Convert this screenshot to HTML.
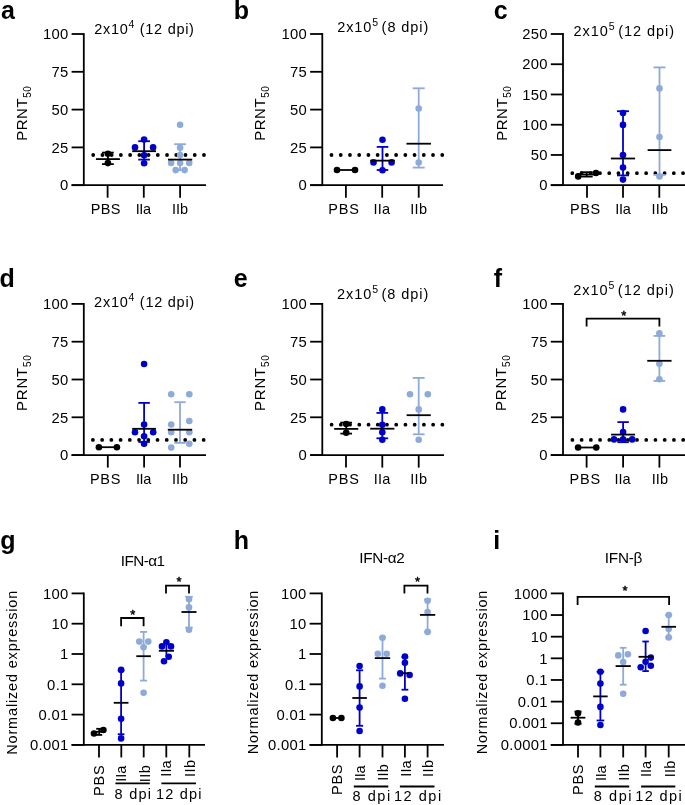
<!DOCTYPE html>
<html><head><meta charset="utf-8"><style>
html,body{margin:0;padding:0;background:#fff;}
svg{display:block;will-change:transform;}
text{font-family:"Liberation Sans", sans-serif;fill:#000;}
</style></head><body>
<svg width="685" height="805" viewBox="0 0 685 805">
<line x1="83.8" y1="33.1" x2="83.8" y2="186.1" stroke="#000000" stroke-width="1.8" />
<line x1="71.6" y1="34.0" x2="83.8" y2="34.0" stroke="#000000" stroke-width="1.8" />
<line x1="71.6" y1="71.8" x2="83.8" y2="71.8" stroke="#000000" stroke-width="1.8" />
<line x1="71.6" y1="109.6" x2="83.8" y2="109.6" stroke="#000000" stroke-width="1.8" />
<line x1="71.6" y1="147.39999999999998" x2="83.8" y2="147.39999999999998" stroke="#000000" stroke-width="1.8" />
<line x1="71.6" y1="185.2" x2="83.8" y2="185.2" stroke="#000000" stroke-width="1.8" />
<line x1="71.6" y1="185.2" x2="206" y2="185.2" stroke="#000000" stroke-width="1.8" />
<line x1="107.6" y1="185.2" x2="107.6" y2="197.7" stroke="#000000" stroke-width="1.8" />
<line x1="143.8" y1="185.2" x2="143.8" y2="197.7" stroke="#000000" stroke-width="1.8" />
<line x1="180.1" y1="185.2" x2="180.1" y2="197.7" stroke="#000000" stroke-width="1.8" />
<line x1="93.2" y1="155" x2="204" y2="155" stroke="#000000" stroke-width="3.8" stroke-linecap="round" stroke-dasharray="0 9.23"/>
<line x1="107.9" y1="152.6" x2="107.9" y2="164.1" stroke="#000000" stroke-width="1.8" />
<line x1="102.05000000000001" y1="152.6" x2="113.75" y2="152.6" stroke="#000000" stroke-width="1.8" />
<line x1="102.05000000000001" y1="164.1" x2="113.75" y2="164.1" stroke="#000000" stroke-width="1.8" />
<circle cx="107.9" cy="153.8" r="3.3" fill="#000000"/>
<circle cx="107.9" cy="163.1" r="3.3" fill="#000000"/>
<line x1="95.9" y1="159.1" x2="119.9" y2="159.1" stroke="#000000" stroke-width="1.8" />
<line x1="144.1" y1="141.2" x2="144.1" y2="159.6" stroke="#0000C8" stroke-width="1.8" />
<line x1="138.25" y1="141.2" x2="149.95" y2="141.2" stroke="#0000C8" stroke-width="1.8" />
<line x1="138.25" y1="159.6" x2="149.95" y2="159.6" stroke="#0000C8" stroke-width="1.8" />
<circle cx="144.1" cy="139.5" r="3.3" fill="#0000C8"/>
<circle cx="135" cy="147.4" r="3.3" fill="#0000C8"/>
<circle cx="153.1" cy="147.4" r="3.3" fill="#0000C8"/>
<circle cx="144.1" cy="155.2" r="3.3" fill="#0000C8"/>
<circle cx="144.1" cy="163.2" r="3.3" fill="#0000C8"/>
<line x1="132.2" y1="151.2" x2="156.0" y2="151.2" stroke="#000000" stroke-width="1.8" />
<line x1="180.1" y1="144.2" x2="180.1" y2="170" stroke="#8DAAD8" stroke-width="1.8" />
<line x1="174.15" y1="144.2" x2="186.04999999999998" y2="144.2" stroke="#8DAAD8" stroke-width="1.8" />
<line x1="174.15" y1="170" x2="186.04999999999998" y2="170" stroke="#8DAAD8" stroke-width="1.8" />
<circle cx="180.1" cy="124.7" r="3.3" fill="#8DAAD8"/>
<circle cx="180.1" cy="147.7" r="3.3" fill="#8DAAD8"/>
<circle cx="180.1" cy="155" r="3.3" fill="#8DAAD8"/>
<circle cx="171.1" cy="163" r="3.3" fill="#8DAAD8"/>
<circle cx="180.1" cy="163" r="3.3" fill="#8DAAD8"/>
<circle cx="189.2" cy="163" r="3.3" fill="#8DAAD8"/>
<circle cx="175.7" cy="170.1" r="3.3" fill="#8DAAD8"/>
<circle cx="184.6" cy="170.1" r="3.3" fill="#8DAAD8"/>
<line x1="167.95" y1="159.6" x2="192.25" y2="159.6" stroke="#000000" stroke-width="1.8" />
<line x1="322.3" y1="33.1" x2="322.3" y2="186.1" stroke="#000000" stroke-width="1.8" />
<line x1="310.1" y1="34.0" x2="322.3" y2="34.0" stroke="#000000" stroke-width="1.8" />
<line x1="310.1" y1="71.8" x2="322.3" y2="71.8" stroke="#000000" stroke-width="1.8" />
<line x1="310.1" y1="109.6" x2="322.3" y2="109.6" stroke="#000000" stroke-width="1.8" />
<line x1="310.1" y1="147.39999999999998" x2="322.3" y2="147.39999999999998" stroke="#000000" stroke-width="1.8" />
<line x1="310.1" y1="185.2" x2="322.3" y2="185.2" stroke="#000000" stroke-width="1.8" />
<line x1="310.1" y1="185.2" x2="443" y2="185.2" stroke="#000000" stroke-width="1.8" />
<line x1="345.9" y1="185.2" x2="345.9" y2="197.7" stroke="#000000" stroke-width="1.8" />
<line x1="382.2" y1="185.2" x2="382.2" y2="197.7" stroke="#000000" stroke-width="1.8" />
<line x1="418.7" y1="185.2" x2="418.7" y2="197.7" stroke="#000000" stroke-width="1.8" />
<line x1="331.5" y1="155" x2="443" y2="155" stroke="#000000" stroke-width="3.8" stroke-linecap="round" stroke-dasharray="0 9.23"/>
<line x1="337" y1="170" x2="355" y2="170" stroke="#000000" stroke-width="1.8" />
<circle cx="337" cy="170" r="3.3" fill="#000000"/>
<circle cx="355" cy="170" r="3.3" fill="#000000"/>
<line x1="382.5" y1="146.9" x2="382.5" y2="170" stroke="#0000C8" stroke-width="1.8" />
<line x1="376.7" y1="146.9" x2="388.3" y2="146.9" stroke="#0000C8" stroke-width="1.8" />
<line x1="376.7" y1="170" x2="388.3" y2="170" stroke="#0000C8" stroke-width="1.8" />
<circle cx="382.5" cy="139.7" r="3.3" fill="#0000C8"/>
<circle cx="373.5" cy="162.4" r="3.3" fill="#0000C8"/>
<circle cx="391.6" cy="162.4" r="3.3" fill="#0000C8"/>
<circle cx="382.5" cy="170.3" r="3.3" fill="#0000C8"/>
<line x1="370.25" y1="160.65" x2="394.75" y2="160.65" stroke="#000000" stroke-width="1.8" />
<line x1="418.7" y1="88.3" x2="418.7" y2="167.6" stroke="#8DAAD8" stroke-width="1.8" />
<line x1="412.7" y1="88.3" x2="424.7" y2="88.3" stroke="#8DAAD8" stroke-width="1.8" />
<line x1="412.7" y1="167.6" x2="424.7" y2="167.6" stroke="#8DAAD8" stroke-width="1.8" />
<circle cx="418.7" cy="108.5" r="3.3" fill="#8DAAD8"/>
<circle cx="418.7" cy="162.5" r="3.3" fill="#8DAAD8"/>
<line x1="406.45" y1="143.7" x2="430.95" y2="143.7" stroke="#000000" stroke-width="1.8" />
<line x1="563" y1="33.1" x2="563" y2="186.1" stroke="#000000" stroke-width="1.8" />
<line x1="550.8" y1="34.0" x2="563" y2="34.0" stroke="#000000" stroke-width="1.8" />
<line x1="550.8" y1="64.24" x2="563" y2="64.24" stroke="#000000" stroke-width="1.8" />
<line x1="550.8" y1="94.47999999999999" x2="563" y2="94.47999999999999" stroke="#000000" stroke-width="1.8" />
<line x1="550.8" y1="124.72" x2="563" y2="124.72" stroke="#000000" stroke-width="1.8" />
<line x1="550.8" y1="154.95999999999998" x2="563" y2="154.95999999999998" stroke="#000000" stroke-width="1.8" />
<line x1="550.8" y1="185.2" x2="563" y2="185.2" stroke="#000000" stroke-width="1.8" />
<line x1="550.8" y1="185.2" x2="685" y2="185.2" stroke="#000000" stroke-width="1.8" />
<line x1="587" y1="185.2" x2="587" y2="197.7" stroke="#000000" stroke-width="1.8" />
<line x1="623" y1="185.2" x2="623" y2="197.7" stroke="#000000" stroke-width="1.8" />
<line x1="659.3" y1="185.2" x2="659.3" y2="197.7" stroke="#000000" stroke-width="1.8" />
<line x1="572.3" y1="173.2" x2="686" y2="173.2" stroke="#000000" stroke-width="3.8" stroke-linecap="round" stroke-dasharray="0 9.23"/>
<line x1="580.5" y1="172.2" x2="592.7" y2="172.2" stroke="#000000" stroke-width="1.8" />
<line x1="580.5" y1="176.6" x2="592.7" y2="176.6" stroke="#000000" stroke-width="1.8" />
<line x1="586.6" y1="172.2" x2="586.6" y2="176.6" stroke="#000000" stroke-width="1.8" />
<line x1="577" y1="174.5" x2="597" y2="174.5" stroke="#000000" stroke-width="1.8" />
<circle cx="578.2" cy="176.4" r="3.3" fill="#000000"/>
<circle cx="596" cy="173" r="3.3" fill="#000000"/>
<line x1="623" y1="111.2" x2="623" y2="175.4" stroke="#0000C8" stroke-width="1.8" />
<line x1="617.0" y1="111.2" x2="629.0" y2="111.2" stroke="#0000C8" stroke-width="1.8" />
<line x1="617.0" y1="175.4" x2="629.0" y2="175.4" stroke="#0000C8" stroke-width="1.8" />
<circle cx="623" cy="113" r="3.3" fill="#0000C8"/>
<circle cx="623" cy="124.9" r="3.3" fill="#0000C8"/>
<circle cx="623" cy="155" r="3.3" fill="#0000C8"/>
<circle cx="623" cy="167.6" r="3.3" fill="#0000C8"/>
<circle cx="623" cy="179.6" r="3.3" fill="#0000C8"/>
<line x1="610.9" y1="158.5" x2="635.1" y2="158.5" stroke="#000000" stroke-width="1.8" />
<line x1="659.5" y1="67.4" x2="659.5" y2="174.9" stroke="#8DAAD8" stroke-width="1.8" />
<line x1="653.5" y1="67.4" x2="665.5" y2="67.4" stroke="#8DAAD8" stroke-width="1.8" />
<line x1="653.5" y1="174.9" x2="665.5" y2="174.9" stroke="#8DAAD8" stroke-width="1.8" />
<circle cx="659.5" cy="88.4" r="3.3" fill="#8DAAD8"/>
<circle cx="659.5" cy="137.1" r="3.3" fill="#8DAAD8"/>
<circle cx="659.5" cy="176.4" r="3.3" fill="#8DAAD8"/>
<line x1="647.65" y1="150.1" x2="671.35" y2="150.1" stroke="#000000" stroke-width="1.8" />
<line x1="83.8" y1="303.0" x2="83.8" y2="456.0" stroke="#000000" stroke-width="1.8" />
<line x1="71.6" y1="303.9" x2="83.8" y2="303.9" stroke="#000000" stroke-width="1.8" />
<line x1="71.6" y1="341.7" x2="83.8" y2="341.7" stroke="#000000" stroke-width="1.8" />
<line x1="71.6" y1="379.5" x2="83.8" y2="379.5" stroke="#000000" stroke-width="1.8" />
<line x1="71.6" y1="417.3" x2="83.8" y2="417.3" stroke="#000000" stroke-width="1.8" />
<line x1="71.6" y1="455.1" x2="83.8" y2="455.1" stroke="#000000" stroke-width="1.8" />
<line x1="71.6" y1="455.1" x2="206" y2="455.1" stroke="#000000" stroke-width="1.8" />
<line x1="107.8" y1="455.1" x2="107.8" y2="467.6" stroke="#000000" stroke-width="1.8" />
<line x1="144.1" y1="455.1" x2="144.1" y2="467.6" stroke="#000000" stroke-width="1.8" />
<line x1="180" y1="455.1" x2="180" y2="467.6" stroke="#000000" stroke-width="1.8" />
<line x1="92.9" y1="439.9" x2="204" y2="439.9" stroke="#000000" stroke-width="3.8" stroke-linecap="round" stroke-dasharray="0 9.23"/>
<line x1="98.9" y1="447.2" x2="116.9" y2="447.2" stroke="#000000" stroke-width="1.8" />
<circle cx="98.9" cy="447.2" r="3.3" fill="#000000"/>
<circle cx="116.9" cy="447.2" r="3.3" fill="#000000"/>
<line x1="144.1" y1="402.9" x2="144.1" y2="442" stroke="#0000C8" stroke-width="1.8" />
<line x1="138.35" y1="402.9" x2="149.85" y2="402.9" stroke="#0000C8" stroke-width="1.8" />
<line x1="138.35" y1="442" x2="149.85" y2="442" stroke="#0000C8" stroke-width="1.8" />
<circle cx="144.1" cy="364" r="3.3" fill="#0000C8"/>
<circle cx="144.1" cy="424.5" r="3.3" fill="#0000C8"/>
<circle cx="135" cy="432.3" r="3.3" fill="#0000C8"/>
<circle cx="153.2" cy="432.3" r="3.3" fill="#0000C8"/>
<circle cx="144.1" cy="436.2" r="3.3" fill="#0000C8"/>
<circle cx="144.1" cy="443.7" r="3.3" fill="#0000C8"/>
<line x1="132.15" y1="428.8" x2="156.04999999999998" y2="428.8" stroke="#000000" stroke-width="1.8" />
<line x1="180" y1="402.2" x2="180" y2="442.9" stroke="#8DAAD8" stroke-width="1.8" />
<line x1="174.3" y1="402.2" x2="185.7" y2="402.2" stroke="#8DAAD8" stroke-width="1.8" />
<line x1="174.3" y1="442.9" x2="185.7" y2="442.9" stroke="#8DAAD8" stroke-width="1.8" />
<circle cx="171.2" cy="394.3" r="3.3" fill="#8DAAD8"/>
<circle cx="189.3" cy="394.3" r="3.3" fill="#8DAAD8"/>
<circle cx="171.2" cy="424.5" r="3.3" fill="#8DAAD8"/>
<circle cx="189.3" cy="421" r="3.3" fill="#8DAAD8"/>
<circle cx="171.2" cy="432.3" r="3.3" fill="#8DAAD8"/>
<circle cx="189.3" cy="432.3" r="3.3" fill="#8DAAD8"/>
<circle cx="189.3" cy="443.7" r="3.3" fill="#8DAAD8"/>
<circle cx="171.2" cy="447.6" r="3.3" fill="#8DAAD8"/>
<line x1="167.8" y1="429.7" x2="192.2" y2="429.7" stroke="#000000" stroke-width="1.8" />
<line x1="322.3" y1="303.0" x2="322.3" y2="456.0" stroke="#000000" stroke-width="1.8" />
<line x1="310.1" y1="303.9" x2="322.3" y2="303.9" stroke="#000000" stroke-width="1.8" />
<line x1="310.1" y1="341.7" x2="322.3" y2="341.7" stroke="#000000" stroke-width="1.8" />
<line x1="310.1" y1="379.5" x2="322.3" y2="379.5" stroke="#000000" stroke-width="1.8" />
<line x1="310.1" y1="417.3" x2="322.3" y2="417.3" stroke="#000000" stroke-width="1.8" />
<line x1="310.1" y1="455.1" x2="322.3" y2="455.1" stroke="#000000" stroke-width="1.8" />
<line x1="310.1" y1="455.1" x2="444" y2="455.1" stroke="#000000" stroke-width="1.8" />
<line x1="346" y1="455.1" x2="346" y2="467.6" stroke="#000000" stroke-width="1.8" />
<line x1="382.3" y1="455.1" x2="382.3" y2="467.6" stroke="#000000" stroke-width="1.8" />
<line x1="418.7" y1="455.1" x2="418.7" y2="467.6" stroke="#000000" stroke-width="1.8" />
<line x1="331.6" y1="424.7" x2="443" y2="424.7" stroke="#000000" stroke-width="3.8" stroke-linecap="round" stroke-dasharray="0 9.23"/>
<line x1="346.2" y1="422.6" x2="346.2" y2="433.6" stroke="#000000" stroke-width="1.8" />
<line x1="340.34999999999997" y1="422.6" x2="352.05" y2="422.6" stroke="#000000" stroke-width="1.8" />
<line x1="340.34999999999997" y1="433.6" x2="352.05" y2="433.6" stroke="#000000" stroke-width="1.8" />
<circle cx="346.2" cy="424" r="3.3" fill="#000000"/>
<circle cx="346.2" cy="432.7" r="3.3" fill="#000000"/>
<line x1="334.15" y1="428.9" x2="358.25" y2="428.9" stroke="#000000" stroke-width="1.8" />
<line x1="382.3" y1="412.9" x2="382.3" y2="438.3" stroke="#0000C8" stroke-width="1.8" />
<line x1="376.45" y1="412.9" x2="388.15000000000003" y2="412.9" stroke="#0000C8" stroke-width="1.8" />
<line x1="376.45" y1="438.3" x2="388.15000000000003" y2="438.3" stroke="#0000C8" stroke-width="1.8" />
<circle cx="382.3" cy="409.4" r="3.3" fill="#0000C8"/>
<circle cx="382.3" cy="424.7" r="3.3" fill="#0000C8"/>
<circle cx="382.3" cy="432.2" r="3.3" fill="#0000C8"/>
<circle cx="382.3" cy="439.7" r="3.3" fill="#0000C8"/>
<line x1="370.2" y1="428.7" x2="394.40000000000003" y2="428.7" stroke="#000000" stroke-width="1.8" />
<line x1="418.7" y1="377.9" x2="418.7" y2="434.3" stroke="#8DAAD8" stroke-width="1.8" />
<line x1="412.8" y1="377.9" x2="424.59999999999997" y2="377.9" stroke="#8DAAD8" stroke-width="1.8" />
<line x1="412.8" y1="434.3" x2="424.59999999999997" y2="434.3" stroke="#8DAAD8" stroke-width="1.8" />
<circle cx="410" cy="394.2" r="3.3" fill="#8DAAD8"/>
<circle cx="427.8" cy="394.2" r="3.3" fill="#8DAAD8"/>
<circle cx="418.7" cy="409.4" r="3.3" fill="#8DAAD8"/>
<circle cx="418.7" cy="439.7" r="3.3" fill="#8DAAD8"/>
<line x1="406.59999999999997" y1="415.2" x2="430.8" y2="415.2" stroke="#000000" stroke-width="1.8" />
<line x1="563" y1="303.0" x2="563" y2="456.0" stroke="#000000" stroke-width="1.8" />
<line x1="550.8" y1="303.9" x2="563" y2="303.9" stroke="#000000" stroke-width="1.8" />
<line x1="550.8" y1="341.7" x2="563" y2="341.7" stroke="#000000" stroke-width="1.8" />
<line x1="550.8" y1="379.5" x2="563" y2="379.5" stroke="#000000" stroke-width="1.8" />
<line x1="550.8" y1="417.3" x2="563" y2="417.3" stroke="#000000" stroke-width="1.8" />
<line x1="550.8" y1="455.1" x2="563" y2="455.1" stroke="#000000" stroke-width="1.8" />
<line x1="550.8" y1="455.1" x2="685" y2="455.1" stroke="#000000" stroke-width="1.8" />
<line x1="586.6" y1="455.1" x2="586.6" y2="467.6" stroke="#000000" stroke-width="1.8" />
<line x1="623.1" y1="455.1" x2="623.1" y2="467.6" stroke="#000000" stroke-width="1.8" />
<line x1="659.4" y1="455.1" x2="659.4" y2="467.6" stroke="#000000" stroke-width="1.8" />
<line x1="572.4" y1="439.9" x2="686" y2="439.9" stroke="#000000" stroke-width="3.8" stroke-linecap="round" stroke-dasharray="0 9.23"/>
<line x1="578.1" y1="447.5" x2="596.3" y2="447.5" stroke="#000000" stroke-width="1.8" />
<circle cx="578.1" cy="447.5" r="3.3" fill="#000000"/>
<circle cx="596.3" cy="447.5" r="3.3" fill="#000000"/>
<line x1="623.1" y1="422.1" x2="623.1" y2="442.2" stroke="#0000C8" stroke-width="1.8" />
<line x1="617.4" y1="422.1" x2="628.8000000000001" y2="422.1" stroke="#0000C8" stroke-width="1.8" />
<line x1="617.4" y1="442.2" x2="628.8000000000001" y2="442.2" stroke="#0000C8" stroke-width="1.8" />
<circle cx="623.1" cy="409.4" r="3.3" fill="#0000C8"/>
<circle cx="623.1" cy="432" r="3.3" fill="#0000C8"/>
<circle cx="614" cy="439.4" r="3.3" fill="#0000C8"/>
<circle cx="623.1" cy="439.4" r="3.3" fill="#0000C8"/>
<circle cx="632.2" cy="439.4" r="3.3" fill="#0000C8"/>
<line x1="611.1" y1="434.6" x2="635.1" y2="434.6" stroke="#000000" stroke-width="1.8" />
<line x1="659.4" y1="335.9" x2="659.4" y2="380.9" stroke="#8DAAD8" stroke-width="1.8" />
<line x1="653.55" y1="335.9" x2="665.25" y2="335.9" stroke="#8DAAD8" stroke-width="1.8" />
<line x1="653.55" y1="380.9" x2="665.25" y2="380.9" stroke="#8DAAD8" stroke-width="1.8" />
<circle cx="659.4" cy="333.4" r="3.3" fill="#8DAAD8"/>
<circle cx="659.4" cy="363.8" r="3.3" fill="#8DAAD8"/>
<circle cx="659.4" cy="379.2" r="3.3" fill="#8DAAD8"/>
<line x1="647.25" y1="360.8" x2="671.55" y2="360.8" stroke="#000000" stroke-width="1.8" />
<polyline points="586.6,326.4 586.6,318.6 659.4,318.6 659.4,326.4" fill="none" stroke="#000000" stroke-width="1.8"/>
<line x1="83.8" y1="592.5" x2="83.8" y2="745.8" stroke="#000000" stroke-width="1.8" />
<line x1="71.6" y1="593.4" x2="83.8" y2="593.4" stroke="#000000" stroke-width="1.8" />
<line x1="71.6" y1="623.6999999999999" x2="83.8" y2="623.6999999999999" stroke="#000000" stroke-width="1.8" />
<line x1="71.6" y1="654.0" x2="83.8" y2="654.0" stroke="#000000" stroke-width="1.8" />
<line x1="71.6" y1="684.3" x2="83.8" y2="684.3" stroke="#000000" stroke-width="1.8" />
<line x1="71.6" y1="714.6" x2="83.8" y2="714.6" stroke="#000000" stroke-width="1.8" />
<line x1="71.6" y1="744.9" x2="83.8" y2="744.9" stroke="#000000" stroke-width="1.8" />
<line x1="71.6" y1="744.9" x2="205" y2="744.9" stroke="#000000" stroke-width="1.8" />
<line x1="99" y1="744.9" x2="99" y2="757.4" stroke="#000000" stroke-width="1.8" />
<line x1="121.3" y1="744.9" x2="121.3" y2="757.4" stroke="#000000" stroke-width="1.8" />
<line x1="143.7" y1="744.9" x2="143.7" y2="757.4" stroke="#000000" stroke-width="1.8" />
<line x1="166.3" y1="744.9" x2="166.3" y2="757.4" stroke="#000000" stroke-width="1.8" />
<line x1="189.3" y1="744.9" x2="189.3" y2="757.4" stroke="#000000" stroke-width="1.8" />
<line x1="115.4" y1="783.4" x2="149.8" y2="783.4" stroke="#000000" stroke-width="1.8" />
<line x1="161.4" y1="783.4" x2="196" y2="783.4" stroke="#000000" stroke-width="1.8" />
<line x1="321.8" y1="592.5" x2="321.8" y2="745.8" stroke="#000000" stroke-width="1.8" />
<line x1="309.6" y1="593.4" x2="321.8" y2="593.4" stroke="#000000" stroke-width="1.8" />
<line x1="309.6" y1="623.6999999999999" x2="321.8" y2="623.6999999999999" stroke="#000000" stroke-width="1.8" />
<line x1="309.6" y1="654.0" x2="321.8" y2="654.0" stroke="#000000" stroke-width="1.8" />
<line x1="309.6" y1="684.3" x2="321.8" y2="684.3" stroke="#000000" stroke-width="1.8" />
<line x1="309.6" y1="714.6" x2="321.8" y2="714.6" stroke="#000000" stroke-width="1.8" />
<line x1="309.6" y1="744.9" x2="321.8" y2="744.9" stroke="#000000" stroke-width="1.8" />
<line x1="309.6" y1="744.9" x2="444" y2="744.9" stroke="#000000" stroke-width="1.8" />
<line x1="337.1" y1="744.9" x2="337.1" y2="757.4" stroke="#000000" stroke-width="1.8" />
<line x1="359.6" y1="744.9" x2="359.6" y2="757.4" stroke="#000000" stroke-width="1.8" />
<line x1="382.5" y1="744.9" x2="382.5" y2="757.4" stroke="#000000" stroke-width="1.8" />
<line x1="404.9" y1="744.9" x2="404.9" y2="757.4" stroke="#000000" stroke-width="1.8" />
<line x1="427.6" y1="744.9" x2="427.6" y2="757.4" stroke="#000000" stroke-width="1.8" />
<line x1="353.8" y1="786.5" x2="388.3" y2="786.5" stroke="#000000" stroke-width="1.8" />
<line x1="399.9" y1="786.5" x2="434.5" y2="786.5" stroke="#000000" stroke-width="1.8" />
<line x1="563" y1="592.5" x2="563" y2="745.8" stroke="#000000" stroke-width="1.8" />
<line x1="550.8" y1="593.4" x2="563" y2="593.4" stroke="#000000" stroke-width="1.8" />
<line x1="550.8" y1="615.0428571428571" x2="563" y2="615.0428571428571" stroke="#000000" stroke-width="1.8" />
<line x1="550.8" y1="636.6857142857143" x2="563" y2="636.6857142857143" stroke="#000000" stroke-width="1.8" />
<line x1="550.8" y1="658.3285714285714" x2="563" y2="658.3285714285714" stroke="#000000" stroke-width="1.8" />
<line x1="550.8" y1="679.9714285714285" x2="563" y2="679.9714285714285" stroke="#000000" stroke-width="1.8" />
<line x1="550.8" y1="701.6142857142856" x2="563" y2="701.6142857142856" stroke="#000000" stroke-width="1.8" />
<line x1="550.8" y1="723.2571428571429" x2="563" y2="723.2571428571429" stroke="#000000" stroke-width="1.8" />
<line x1="550.8" y1="744.9" x2="563" y2="744.9" stroke="#000000" stroke-width="1.8" />
<line x1="550.8" y1="744.9" x2="685" y2="744.9" stroke="#000000" stroke-width="1.8" />
<line x1="578" y1="744.9" x2="578" y2="757.4" stroke="#000000" stroke-width="1.8" />
<line x1="600.4" y1="744.9" x2="600.4" y2="757.4" stroke="#000000" stroke-width="1.8" />
<line x1="623.2" y1="744.9" x2="623.2" y2="757.4" stroke="#000000" stroke-width="1.8" />
<line x1="645.6" y1="744.9" x2="645.6" y2="757.4" stroke="#000000" stroke-width="1.8" />
<line x1="668.7" y1="744.9" x2="668.7" y2="757.4" stroke="#000000" stroke-width="1.8" />
<line x1="594.8" y1="786.5" x2="629.2" y2="786.5" stroke="#000000" stroke-width="1.8" />
<line x1="641.1" y1="786.5" x2="675.3" y2="786.5" stroke="#000000" stroke-width="1.8" />
<line x1="99.2" y1="728.8" x2="99.2" y2="734.9" stroke="#000000" stroke-width="1.8" />
<line x1="96.2" y1="728.8" x2="102.2" y2="728.8" stroke="#000000" stroke-width="1.8" />
<line x1="96.2" y1="734.9" x2="102.2" y2="734.9" stroke="#000000" stroke-width="1.8" />
<circle cx="94" cy="733.5" r="3.3" fill="#000000"/>
<circle cx="103.4" cy="730" r="3.3" fill="#000000"/>
<line x1="95.7" y1="731.8" x2="102.7" y2="731.8" stroke="#000000" stroke-width="1.8" />
<line x1="121.1" y1="670.4" x2="121.1" y2="734.2" stroke="#0000C8" stroke-width="1.8" />
<line x1="117.75" y1="670.4" x2="124.44999999999999" y2="670.4" stroke="#0000C8" stroke-width="1.8" />
<line x1="117.75" y1="734.2" x2="124.44999999999999" y2="734.2" stroke="#0000C8" stroke-width="1.8" />
<circle cx="121.1" cy="669.9" r="3.3" fill="#0000C8"/>
<circle cx="121.1" cy="683.4" r="3.3" fill="#0000C8"/>
<circle cx="121.1" cy="718.8" r="3.3" fill="#0000C8"/>
<circle cx="121.1" cy="738.4" r="3.3" fill="#0000C8"/>
<line x1="113.75" y1="702.8" x2="128.45" y2="702.8" stroke="#000000" stroke-width="1.8" />
<line x1="143.6" y1="631.9" x2="143.6" y2="680.6" stroke="#8DAAD8" stroke-width="1.8" />
<line x1="140.1" y1="631.9" x2="147.1" y2="631.9" stroke="#8DAAD8" stroke-width="1.8" />
<line x1="140.1" y1="680.6" x2="147.1" y2="680.6" stroke="#8DAAD8" stroke-width="1.8" />
<circle cx="139.3" cy="641.6" r="3.3" fill="#8DAAD8"/>
<circle cx="148.3" cy="641.6" r="3.3" fill="#8DAAD8"/>
<circle cx="143.6" cy="647.2" r="3.3" fill="#8DAAD8"/>
<circle cx="143.6" cy="692.8" r="3.3" fill="#8DAAD8"/>
<line x1="136.29999999999998" y1="656.2" x2="150.9" y2="656.2" stroke="#000000" stroke-width="1.8" />
<line x1="166.4" y1="643" x2="166.4" y2="657" stroke="#0000C8" stroke-width="1.8" />
<circle cx="166.4" cy="642.3" r="3.3" fill="#0000C8"/>
<circle cx="162" cy="646.4" r="3.3" fill="#0000C8"/>
<circle cx="171" cy="646.4" r="3.3" fill="#0000C8"/>
<circle cx="168.7" cy="656.8" r="3.3" fill="#0000C8"/>
<circle cx="164" cy="661.2" r="3.3" fill="#0000C8"/>
<line x1="158.85" y1="650.8" x2="173.95000000000002" y2="650.8" stroke="#000000" stroke-width="1.8" />
<line x1="189" y1="596.8" x2="189" y2="627.6" stroke="#8DAAD8" stroke-width="1.8" />
<line x1="185.2" y1="596.8" x2="192.8" y2="596.8" stroke="#8DAAD8" stroke-width="1.8" />
<line x1="185.2" y1="627.6" x2="192.8" y2="627.6" stroke="#8DAAD8" stroke-width="1.8" />
<circle cx="189" cy="599.3" r="3.3" fill="#8DAAD8"/>
<circle cx="189" cy="607.4" r="3.3" fill="#8DAAD8"/>
<circle cx="189" cy="629.8" r="3.3" fill="#8DAAD8"/>
<line x1="181.45" y1="612" x2="196.55" y2="612" stroke="#000000" stroke-width="1.8" />
<polyline points="121.1,626.2 121.1,618 143.6,618 143.6,626.2" fill="none" stroke="#000000" stroke-width="1.8"/>
<polyline points="166,593.4 166,585.6 189,585.6 189,593.4" fill="none" stroke="#000000" stroke-width="1.8"/>
<line x1="332.9" y1="718" x2="341.4" y2="718" stroke="#000000" stroke-width="1.8" />
<circle cx="332.9" cy="718" r="3.3" fill="#000000"/>
<circle cx="341.4" cy="718" r="3.3" fill="#000000"/>
<line x1="359.6" y1="670.3" x2="359.6" y2="725.8" stroke="#0000C8" stroke-width="1.8" />
<line x1="356.05" y1="670.3" x2="363.15000000000003" y2="670.3" stroke="#0000C8" stroke-width="1.8" />
<line x1="356.05" y1="725.8" x2="363.15000000000003" y2="725.8" stroke="#0000C8" stroke-width="1.8" />
<circle cx="359.6" cy="666.1" r="3.3" fill="#0000C8"/>
<circle cx="359.6" cy="686.4" r="3.3" fill="#0000C8"/>
<circle cx="359.6" cy="707.6" r="3.3" fill="#0000C8"/>
<circle cx="359.6" cy="731" r="3.3" fill="#0000C8"/>
<line x1="352.3" y1="698" x2="366.90000000000003" y2="698" stroke="#000000" stroke-width="1.8" />
<line x1="382.5" y1="637.3" x2="382.5" y2="678.6" stroke="#8DAAD8" stroke-width="1.8" />
<line x1="379.1" y1="637.3" x2="385.9" y2="637.3" stroke="#8DAAD8" stroke-width="1.8" />
<line x1="379.1" y1="678.6" x2="385.9" y2="678.6" stroke="#8DAAD8" stroke-width="1.8" />
<circle cx="382.5" cy="637.8" r="3.3" fill="#8DAAD8"/>
<circle cx="377.8" cy="653.8" r="3.3" fill="#8DAAD8"/>
<circle cx="386.7" cy="653.8" r="3.3" fill="#8DAAD8"/>
<circle cx="382.5" cy="685.7" r="3.3" fill="#8DAAD8"/>
<line x1="374.8" y1="658.1" x2="390.2" y2="658.1" stroke="#000000" stroke-width="1.8" />
<line x1="404.9" y1="657.3" x2="404.9" y2="689.7" stroke="#0000C8" stroke-width="1.8" />
<line x1="401.5" y1="657.3" x2="408.29999999999995" y2="657.3" stroke="#0000C8" stroke-width="1.8" />
<line x1="401.5" y1="689.7" x2="408.29999999999995" y2="689.7" stroke="#0000C8" stroke-width="1.8" />
<circle cx="404.9" cy="656.6" r="3.3" fill="#0000C8"/>
<circle cx="404.9" cy="662.8" r="3.3" fill="#0000C8"/>
<circle cx="400.2" cy="673.4" r="3.3" fill="#0000C8"/>
<circle cx="409.6" cy="675" r="3.3" fill="#0000C8"/>
<circle cx="404.9" cy="698.7" r="3.3" fill="#0000C8"/>
<line x1="400.75" y1="673.2" x2="409.04999999999995" y2="673.2" stroke="#000000" stroke-width="1.8" />
<line x1="427.6" y1="599.5" x2="427.6" y2="631.9" stroke="#8DAAD8" stroke-width="1.8" />
<line x1="424.1" y1="599.5" x2="431.1" y2="599.5" stroke="#8DAAD8" stroke-width="1.8" />
<line x1="424.1" y1="631.9" x2="431.1" y2="631.9" stroke="#8DAAD8" stroke-width="1.8" />
<circle cx="427.6" cy="600.7" r="3.3" fill="#8DAAD8"/>
<circle cx="427.6" cy="612" r="3.3" fill="#8DAAD8"/>
<circle cx="427.6" cy="631.9" r="3.3" fill="#8DAAD8"/>
<line x1="419.95000000000005" y1="614.9" x2="435.25" y2="614.9" stroke="#000000" stroke-width="1.8" />
<polyline points="404.4,593.4 404.4,585.6 427.5,585.6 427.5,593.4" fill="none" stroke="#000000" stroke-width="1.8"/>
<line x1="578" y1="711.6" x2="578" y2="723.8" stroke="#000000" stroke-width="1.8" />
<line x1="574.5" y1="711.6" x2="581.5" y2="711.6" stroke="#000000" stroke-width="1.8" />
<line x1="574.5" y1="723.8" x2="581.5" y2="723.8" stroke="#000000" stroke-width="1.8" />
<circle cx="578" cy="713.3" r="3.3" fill="#000000"/>
<circle cx="578" cy="722.5" r="3.3" fill="#000000"/>
<line x1="570.65" y1="717.7" x2="585.35" y2="717.7" stroke="#000000" stroke-width="1.8" />
<line x1="600.4" y1="671.7" x2="600.4" y2="720.5" stroke="#0000C8" stroke-width="1.8" />
<line x1="596.6" y1="671.7" x2="604.1999999999999" y2="671.7" stroke="#0000C8" stroke-width="1.8" />
<line x1="596.6" y1="720.5" x2="604.1999999999999" y2="720.5" stroke="#0000C8" stroke-width="1.8" />
<circle cx="600.4" cy="671.7" r="3.3" fill="#0000C8"/>
<circle cx="600.4" cy="683.6" r="3.3" fill="#0000C8"/>
<circle cx="600.4" cy="706.9" r="3.3" fill="#0000C8"/>
<circle cx="600.4" cy="725" r="3.3" fill="#0000C8"/>
<line x1="593.15" y1="696.4" x2="607.65" y2="696.4" stroke="#000000" stroke-width="1.8" />
<line x1="623.2" y1="647.8" x2="623.2" y2="684.7" stroke="#8DAAD8" stroke-width="1.8" />
<line x1="619.85" y1="647.8" x2="626.5500000000001" y2="647.8" stroke="#8DAAD8" stroke-width="1.8" />
<line x1="619.85" y1="684.7" x2="626.5500000000001" y2="684.7" stroke="#8DAAD8" stroke-width="1.8" />
<circle cx="618.3" cy="655.4" r="3.3" fill="#8DAAD8"/>
<circle cx="627.9" cy="654.3" r="3.3" fill="#8DAAD8"/>
<circle cx="623.2" cy="662.1" r="3.3" fill="#8DAAD8"/>
<circle cx="623.2" cy="693.7" r="3.3" fill="#8DAAD8"/>
<line x1="615.6" y1="666.1" x2="630.8000000000001" y2="666.1" stroke="#000000" stroke-width="1.8" />
<line x1="645.6" y1="641.5" x2="645.6" y2="671.1" stroke="#0000C8" stroke-width="1.8" />
<line x1="642.35" y1="641.5" x2="648.85" y2="641.5" stroke="#0000C8" stroke-width="1.8" />
<line x1="642.35" y1="671.1" x2="648.85" y2="671.1" stroke="#0000C8" stroke-width="1.8" />
<circle cx="645.6" cy="631" r="3.3" fill="#0000C8"/>
<circle cx="645.6" cy="661.7" r="3.3" fill="#0000C8"/>
<circle cx="640.7" cy="667.3" r="3.3" fill="#0000C8"/>
<circle cx="650.8" cy="657.6" r="3.3" fill="#0000C8"/>
<circle cx="650.8" cy="665.7" r="3.3" fill="#0000C8"/>
<line x1="638.5500000000001" y1="656.8" x2="652.65" y2="656.8" stroke="#000000" stroke-width="1.8" />
<line x1="668.7" y1="615" x2="668.7" y2="637.4" stroke="#8DAAD8" stroke-width="1.8" />
<line x1="665.2" y1="615" x2="672.2" y2="615" stroke="#8DAAD8" stroke-width="1.8" />
<line x1="665.2" y1="637.4" x2="672.2" y2="637.4" stroke="#8DAAD8" stroke-width="1.8" />
<circle cx="668.7" cy="615" r="3.3" fill="#8DAAD8"/>
<circle cx="668.7" cy="629.1" r="3.3" fill="#8DAAD8"/>
<circle cx="668.7" cy="637.4" r="3.3" fill="#8DAAD8"/>
<line x1="661.4000000000001" y1="626.8" x2="676.0" y2="626.8" stroke="#000000" stroke-width="1.8" />
<polyline points="577.6,605 577.6,596.8 669.1,596.8 669.1,605" fill="none" stroke="#000000" stroke-width="1.8"/>
<text x="1.080" y="19.060" font-size="25.000" text-anchor="start" font-weight="bold">a</text>
<text x="94.240" y="33.880" font-size="14.500" text-anchor="start" font-weight="normal" letter-spacing="0.708">2x10<tspan font-size="10.5" dy="-6">4</tspan><tspan dy="6"> (12 dpi)</tspan></text>
<text x="68.600" y="39.200" font-size="14.800" text-anchor="end" font-weight="normal" letter-spacing="0.300">100</text>
<text x="68.600" y="77.000" font-size="14.800" text-anchor="end" font-weight="normal" letter-spacing="0.300">75</text>
<text x="68.600" y="114.800" font-size="14.800" text-anchor="end" font-weight="normal" letter-spacing="0.300">50</text>
<text x="68.600" y="152.600" font-size="14.800" text-anchor="end" font-weight="normal" letter-spacing="0.300">25</text>
<text x="68.600" y="190.400" font-size="14.800" text-anchor="end" font-weight="normal" letter-spacing="0.300">0</text>
<text transform="translate(26.840,113.200) rotate(-90)" font-size="15.000" text-anchor="middle" font-weight="normal" letter-spacing="0.560">PRNT<tspan font-size="10" dy="4">50</tspan></text>
<text x="105.680" y="214.000" font-size="14.500" text-anchor="middle" font-weight="normal" letter-spacing="0.320">PBS</text>
<text x="143.120" y="214.000" font-size="14.500" text-anchor="middle" font-weight="normal" letter-spacing="-0.440">IIa</text>
<text x="180.060" y="214.400" font-size="14.500" text-anchor="middle" font-weight="normal" letter-spacing="-0.040">IIb</text>
<text x="233.680" y="19.300" font-size="25.000" text-anchor="start" font-weight="bold">b</text>
<text x="337.140" y="32.220" font-size="14.500" text-anchor="start" font-weight="normal" letter-spacing="0.938">2x10<tspan font-size="10.5" dy="-6">5</tspan><tspan dx="2.5" dy="6">(8 dpi)</tspan></text>
<text x="307.100" y="39.200" font-size="14.800" text-anchor="end" font-weight="normal" letter-spacing="0.300">100</text>
<text x="307.100" y="77.000" font-size="14.800" text-anchor="end" font-weight="normal" letter-spacing="0.300">75</text>
<text x="307.100" y="114.800" font-size="14.800" text-anchor="end" font-weight="normal" letter-spacing="0.300">50</text>
<text x="307.100" y="152.600" font-size="14.800" text-anchor="end" font-weight="normal" letter-spacing="0.300">25</text>
<text x="307.100" y="190.400" font-size="14.800" text-anchor="end" font-weight="normal" letter-spacing="0.300">0</text>
<text transform="translate(265.480,113.200) rotate(-90)" font-size="15.000" text-anchor="middle" font-weight="normal" letter-spacing="0.560">PRNT<tspan font-size="10" dy="4">50</tspan></text>
<text x="343.940" y="214.000" font-size="14.500" text-anchor="middle" font-weight="normal" letter-spacing="0.840">PBS</text>
<text x="381.960" y="214.000" font-size="14.500" text-anchor="middle" font-weight="normal" letter-spacing="0.240">IIa</text>
<text x="418.780" y="214.400" font-size="14.500" text-anchor="middle" font-weight="normal" letter-spacing="0.320">IIb</text>
<text x="493.720" y="19.060" font-size="25.000" text-anchor="start" font-weight="bold">c</text>
<text x="573.560" y="35.660" font-size="14.500" text-anchor="start" font-weight="normal" letter-spacing="0.960">2x10<tspan font-size="10.5" dy="-6">5</tspan><tspan dx="2.5" dy="6">(12 dpi)</tspan></text>
<text x="547.800" y="39.200" font-size="14.800" text-anchor="end" font-weight="normal" letter-spacing="0.300">250</text>
<text x="547.800" y="69.440" font-size="14.800" text-anchor="end" font-weight="normal" letter-spacing="0.300">200</text>
<text x="547.800" y="99.680" font-size="14.800" text-anchor="end" font-weight="normal" letter-spacing="0.300">150</text>
<text x="547.800" y="129.920" font-size="14.800" text-anchor="end" font-weight="normal" letter-spacing="0.300">100</text>
<text x="547.800" y="160.160" font-size="14.800" text-anchor="end" font-weight="normal" letter-spacing="0.300">50</text>
<text x="547.800" y="190.400" font-size="14.800" text-anchor="end" font-weight="normal" letter-spacing="0.300">0</text>
<text transform="translate(506.600,113.200) rotate(-90)" font-size="15.000" text-anchor="middle" font-weight="normal" letter-spacing="0.560">PRNT<tspan font-size="10" dy="4">50</tspan></text>
<text x="585.320" y="214.000" font-size="14.500" text-anchor="middle" font-weight="normal" letter-spacing="0.480">PBS</text>
<text x="622.880" y="214.000" font-size="14.500" text-anchor="middle" font-weight="normal" letter-spacing="-0.360">IIa</text>
<text x="659.860" y="214.400" font-size="14.500" text-anchor="middle" font-weight="normal" letter-spacing="0.160">IIb</text>
<text x="-0.560" y="287.220" font-size="25.000" text-anchor="start" font-weight="bold">d</text>
<text x="94.120" y="307.000" font-size="14.500" text-anchor="start" font-weight="normal" letter-spacing="0.738">2x10<tspan font-size="10.5" dy="-6">4</tspan><tspan dy="6"> (12 dpi)</tspan></text>
<text x="68.600" y="309.100" font-size="14.800" text-anchor="end" font-weight="normal" letter-spacing="0.300">100</text>
<text x="68.600" y="346.900" font-size="14.800" text-anchor="end" font-weight="normal" letter-spacing="0.300">75</text>
<text x="68.600" y="384.700" font-size="14.800" text-anchor="end" font-weight="normal" letter-spacing="0.300">50</text>
<text x="68.600" y="422.500" font-size="14.800" text-anchor="end" font-weight="normal" letter-spacing="0.300">25</text>
<text x="68.600" y="460.300" font-size="14.800" text-anchor="end" font-weight="normal" letter-spacing="0.300">0</text>
<text transform="translate(27.320,382.640) rotate(-90)" font-size="15.000" text-anchor="middle" font-weight="normal" letter-spacing="0.784">PRNT<tspan font-size="10" dy="4">50</tspan></text>
<text x="105.480" y="484.000" font-size="14.500" text-anchor="middle" font-weight="normal" letter-spacing="0.720">PBS</text>
<text x="143.420" y="484.000" font-size="14.500" text-anchor="middle" font-weight="normal" letter-spacing="-0.440">IIa</text>
<text x="179.960" y="484.400" font-size="14.500" text-anchor="middle" font-weight="normal" letter-spacing="-0.040">IIb</text>
<text x="233.840" y="286.980" font-size="25.000" text-anchor="start" font-weight="bold">e</text>
<text x="337.040" y="299.000" font-size="14.500" text-anchor="start" font-weight="normal" letter-spacing="0.938">2x10<tspan font-size="10.5" dy="-6">5</tspan><tspan dx="2.5" dy="6">(8 dpi)</tspan></text>
<text x="307.100" y="309.100" font-size="14.800" text-anchor="end" font-weight="normal" letter-spacing="0.300">100</text>
<text x="307.100" y="346.900" font-size="14.800" text-anchor="end" font-weight="normal" letter-spacing="0.300">75</text>
<text x="307.100" y="384.700" font-size="14.800" text-anchor="end" font-weight="normal" letter-spacing="0.300">50</text>
<text x="307.100" y="422.500" font-size="14.800" text-anchor="end" font-weight="normal" letter-spacing="0.300">25</text>
<text x="307.100" y="460.300" font-size="14.800" text-anchor="end" font-weight="normal" letter-spacing="0.300">0</text>
<text transform="translate(265.480,382.640) rotate(-90)" font-size="15.000" text-anchor="middle" font-weight="normal" letter-spacing="0.784">PRNT<tspan font-size="10" dy="4">50</tspan></text>
<text x="344.040" y="484.000" font-size="14.500" text-anchor="middle" font-weight="normal" letter-spacing="0.840">PBS</text>
<text x="382.060" y="484.000" font-size="14.500" text-anchor="middle" font-weight="normal" letter-spacing="0.240">IIa</text>
<text x="418.780" y="484.400" font-size="14.500" text-anchor="middle" font-weight="normal" letter-spacing="0.320">IIb</text>
<text x="493.680" y="287.020" font-size="25.000" text-anchor="start" font-weight="bold">f</text>
<text x="573.260" y="295.340" font-size="14.500" text-anchor="start" font-weight="normal" letter-spacing="0.960">2x10<tspan font-size="10.5" dy="-6">5</tspan><tspan dx="2.5" dy="6">(12 dpi)</tspan></text>
<text x="547.800" y="309.100" font-size="14.800" text-anchor="end" font-weight="normal" letter-spacing="0.300">100</text>
<text x="547.800" y="346.900" font-size="14.800" text-anchor="end" font-weight="normal" letter-spacing="0.300">75</text>
<text x="547.800" y="384.700" font-size="14.800" text-anchor="end" font-weight="normal" letter-spacing="0.300">50</text>
<text x="547.800" y="422.500" font-size="14.800" text-anchor="end" font-weight="normal" letter-spacing="0.300">25</text>
<text x="547.800" y="460.300" font-size="14.800" text-anchor="end" font-weight="normal" letter-spacing="0.300">0</text>
<text transform="translate(506.360,382.640) rotate(-90)" font-size="15.000" text-anchor="middle" font-weight="normal" letter-spacing="0.784">PRNT<tspan font-size="10" dy="4">50</tspan></text>
<text x="585.320" y="484.000" font-size="14.500" text-anchor="middle" font-weight="normal" letter-spacing="0.880">PBS</text>
<text x="622.580" y="484.000" font-size="14.500" text-anchor="middle" font-weight="normal" letter-spacing="0.040">IIa</text>
<text x="659.960" y="484.400" font-size="14.500" text-anchor="middle" font-weight="normal" letter-spacing="0.160">IIb</text>
<text x="623.840" y="319.520" font-size="13.000" text-anchor="middle" font-weight="normal"><tspan stroke="#000" stroke-width="0.45">*</tspan></text>
<text x="68.600" y="598.600" font-size="14.800" text-anchor="end" font-weight="normal" letter-spacing="0.300">100</text>
<text x="68.600" y="628.900" font-size="14.800" text-anchor="end" font-weight="normal" letter-spacing="0.300">10</text>
<text x="68.600" y="659.200" font-size="14.800" text-anchor="end" font-weight="normal" letter-spacing="0.300">1</text>
<text x="68.600" y="689.500" font-size="14.800" text-anchor="end" font-weight="normal" letter-spacing="0.300">0.1</text>
<text x="68.600" y="719.800" font-size="14.800" text-anchor="end" font-weight="normal" letter-spacing="0.300">0.01</text>
<text x="68.600" y="750.100" font-size="14.800" text-anchor="end" font-weight="normal" letter-spacing="0.300">0.001</text>
<text x="0.160" y="548.860" font-size="25.000" text-anchor="start" font-weight="bold">g</text>
<text x="120.760" y="566.100" font-size="15.300" text-anchor="start" font-weight="normal" letter-spacing="-0.544">IFN-α1</text>
<text transform="translate(17.300,672.330) rotate(-90)" font-size="14.500" text-anchor="middle" font-weight="normal" letter-spacing="0.828">Normalized expression</text>
<text transform="translate(103.880,795.900) rotate(-90)" font-size="14.500" text-anchor="start" font-weight="normal" letter-spacing="0.720">PBS</text>
<text transform="translate(126.280,781.740) rotate(-90)" font-size="14.500" text-anchor="start" font-weight="normal" letter-spacing="-0.040">IIa</text>
<text transform="translate(149.980,782.140) rotate(-90)" font-size="14.500" text-anchor="start" font-weight="normal" letter-spacing="0.360">IIb</text>
<text transform="translate(171.100,776.720) rotate(-90)" font-size="14.500" text-anchor="start" font-weight="normal" letter-spacing="0.080">IIa</text>
<text transform="translate(194.500,777.120) rotate(-90)" font-size="14.500" text-anchor="start" font-weight="normal" letter-spacing="0.480">IIb</text>
<text x="114.620" y="798.560" font-size="14.500" text-anchor="start" font-weight="normal" letter-spacing="1.240">8 dpi</text>
<text x="156.040" y="798.780" font-size="14.500" text-anchor="start" font-weight="normal" letter-spacing="1.200">12 dpi</text>
<text x="306.600" y="598.600" font-size="14.800" text-anchor="end" font-weight="normal" letter-spacing="0.300">100</text>
<text x="306.600" y="628.900" font-size="14.800" text-anchor="end" font-weight="normal" letter-spacing="0.300">10</text>
<text x="306.600" y="659.200" font-size="14.800" text-anchor="end" font-weight="normal" letter-spacing="0.300">1</text>
<text x="306.600" y="689.500" font-size="14.800" text-anchor="end" font-weight="normal" letter-spacing="0.300">0.1</text>
<text x="306.600" y="719.800" font-size="14.800" text-anchor="end" font-weight="normal" letter-spacing="0.300">0.01</text>
<text x="306.600" y="750.100" font-size="14.800" text-anchor="end" font-weight="normal" letter-spacing="0.300">0.001</text>
<text x="233.720" y="548.500" font-size="25.000" text-anchor="start" font-weight="bold">h</text>
<text x="359.220" y="562.880" font-size="15.300" text-anchor="start" font-weight="normal" letter-spacing="-0.304">IFN-α2</text>
<text transform="translate(257.760,672.050) rotate(-90)" font-size="14.500" text-anchor="middle" font-weight="normal" letter-spacing="0.812">Normalized expression</text>
<text transform="translate(342.200,795.000) rotate(-90)" font-size="14.500" text-anchor="start" font-weight="normal" letter-spacing="0.720">PBS</text>
<text transform="translate(364.680,781.040) rotate(-90)" font-size="14.500" text-anchor="start" font-weight="normal" letter-spacing="-0.240">IIa</text>
<text transform="translate(387.840,780.640) rotate(-90)" font-size="14.500" text-anchor="start" font-weight="normal" letter-spacing="0.160">IIb</text>
<text transform="translate(410.780,776.720) rotate(-90)" font-size="14.500" text-anchor="start" font-weight="normal" letter-spacing="0.080">IIa</text>
<text transform="translate(433.320,777.120) rotate(-90)" font-size="14.500" text-anchor="start" font-weight="normal" letter-spacing="0.480">IIb</text>
<text x="352.600" y="801.100" font-size="14.500" text-anchor="start" font-weight="normal" letter-spacing="1.520">8 dpi</text>
<text x="394.040" y="801.100" font-size="14.500" text-anchor="start" font-weight="normal" letter-spacing="1.520">12 dpi</text>
<text x="547.800" y="598.600" font-size="14.800" text-anchor="end" font-weight="normal" letter-spacing="0.300">1000</text>
<text x="547.800" y="620.243" font-size="14.800" text-anchor="end" font-weight="normal" letter-spacing="0.300">100</text>
<text x="547.800" y="641.886" font-size="14.800" text-anchor="end" font-weight="normal" letter-spacing="0.300">10</text>
<text x="547.800" y="663.529" font-size="14.800" text-anchor="end" font-weight="normal" letter-spacing="0.300">1</text>
<text x="547.800" y="685.171" font-size="14.800" text-anchor="end" font-weight="normal" letter-spacing="0.300">0.1</text>
<text x="547.800" y="706.814" font-size="14.800" text-anchor="end" font-weight="normal" letter-spacing="0.300">0.01</text>
<text x="547.800" y="728.457" font-size="14.800" text-anchor="end" font-weight="normal" letter-spacing="0.300">0.001</text>
<text x="547.800" y="750.100" font-size="14.800" text-anchor="end" font-weight="normal" letter-spacing="0.300">0.0001</text>
<text x="493.280" y="549.020" font-size="25.000" text-anchor="start" font-weight="bold">i</text>
<text x="604.760" y="563.000" font-size="15.300" text-anchor="start" font-weight="normal" letter-spacing="-0.220">IFN-β</text>
<text transform="translate(487.310,672.050) rotate(-90)" font-size="14.500" text-anchor="middle" font-weight="normal" letter-spacing="0.812">Normalized expression</text>
<text transform="translate(583.200,795.000) rotate(-90)" font-size="14.500" text-anchor="start" font-weight="normal" letter-spacing="0.720">PBS</text>
<text transform="translate(605.900,781.040) rotate(-90)" font-size="14.500" text-anchor="start" font-weight="normal" letter-spacing="-0.240">IIa</text>
<text transform="translate(628.980,780.640) rotate(-90)" font-size="14.500" text-anchor="start" font-weight="normal" letter-spacing="0.160">IIb</text>
<text transform="translate(650.560,776.920) rotate(-90)" font-size="14.500" text-anchor="start" font-weight="normal" letter-spacing="-0.120">IIa</text>
<text transform="translate(674.760,777.320) rotate(-90)" font-size="14.500" text-anchor="start" font-weight="normal" letter-spacing="0.280">IIb</text>
<text x="593.760" y="801.100" font-size="14.500" text-anchor="start" font-weight="normal" letter-spacing="1.600">8 dpi</text>
<text x="635.280" y="801.100" font-size="14.500" text-anchor="start" font-weight="normal" letter-spacing="1.392">12 dpi</text>
<text x="132.900" y="618.840" font-size="13.000" text-anchor="middle" font-weight="normal"><tspan stroke="#000" stroke-width="0.45">*</tspan></text>
<text x="179.080" y="585.880" font-size="13.000" text-anchor="middle" font-weight="normal"><tspan stroke="#000" stroke-width="0.45">*</tspan></text>
<text x="417.520" y="585.880" font-size="13.000" text-anchor="middle" font-weight="normal"><tspan stroke="#000" stroke-width="0.45">*</tspan></text>
<text x="625.060" y="594.840" font-size="13.000" text-anchor="middle" font-weight="normal"><tspan stroke="#000" stroke-width="0.45">*</tspan></text>
</svg></body></html>
